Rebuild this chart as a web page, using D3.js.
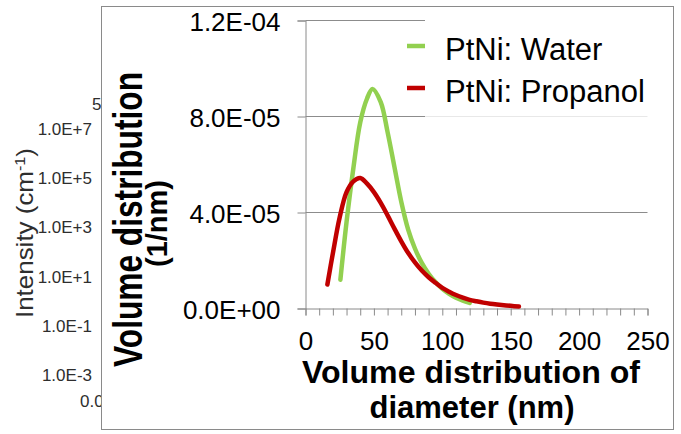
<!DOCTYPE html>
<html><head><meta charset="utf-8">
<script src="https://cdn.jsdelivr.net/npm/d3@7"></script>
<style>html,body{margin:0;padding:0;background:#fff;}svg{display:block;font-family:"Liberation Sans",Arial,sans-serif;}</style>
</head><body><svg id="c" width="681" height="434"></svg>
<script>
// ---- data ----
const seriesNames = ["PtNi: Water", "PtNi: Propanol"];
const waterD = [25.5,30,35,40,45,49,55,60,65,70,75,80,85,90,95,100,105,110,115,120];
const waterV = [1.2e-5,3.6e-5,5.85e-5,7.75e-5,8.75e-5,9.15e-5,8.6e-5,7.35e-5,5.9e-5,4.45e-5,3.3e-5,2.5e-5,1.9e-5,1.45e-5,1.1e-5,8.2e-6,6.1e-6,4.5e-6,3.3e-6,2.3e-6];
const propD = [16,20,25,30,35,40,45,50,55,60,65,70,75,80,85,90,95,100,105,110,115,120,125,130,135,140,145,150,156];
const propV = [1.0e-5,2.3e-5,3.8e-5,4.85e-5,5.3e-5,5.44e-5,5.2e-5,4.85e-5,4.4e-5,3.88e-5,3.33e-5,2.8e-5,2.32e-5,1.92e-5,1.58e-5,1.3e-5,1.07e-5,8.6e-6,7.0e-6,5.6e-6,4.5e-6,3.6e-6,3.0e-6,2.45e-6,2.0e-6,1.65e-6,1.35e-6,1.1e-6,8e-7];
const yTicks = [0, 4e-5, 8e-5, 1.2e-4];
const xTicks = d3.range(0, 251, 10);
const xLabels = [0, 50, 100, 150, 200, 250];
const bgTickLabels = ["1.0E+7","1.0E+5","1.0E+3","1.0E+1","1.0E-1","1.0E-3"];
const bgTickValues = [1e7, 1e5, 1e3, 1e1, 1e-1, 1e-3];
const colors = ["#92D050", "#C00000"];

const svg = d3.select("#c");

// ---- background chart remnants (left) ----
const bgY = d3.scaleLog().domain([1e7, 1e-3]).range([135, 381]);
const bg = svg.append("g").attr("fill", "#2e2e2e").attr("font-size", 17);
bg.selectAll("text.bt").data(bgTickValues).join("text").attr("class","bt")
  .attr("x", 92).attr("y", d => bgY(d)).attr("text-anchor","end")
  .text((d,i) => bgTickLabels[i]);
bg.append("text").attr("x", 92).attr("y", 110).text("5");
bg.append("text").attr("x", 80).attr("y", 407).text("0.0");
const it = bg.append("text").attr("transform","translate(33,233) rotate(-90)")
  .attr("text-anchor","middle").attr("font-size", 24)
  .attr("textLength", 170).attr("lengthAdjust", "spacingAndGlyphs");
it.append("tspan").text("Intensity (cm");
it.append("tspan").attr("baseline-shift","super").attr("font-size",15).text("-1");
it.append("tspan").text(")");

// ---- frame ----
svg.append("rect").attr("x",101.5).attr("y",6.5).attr("width",572).attr("height",423)
  .attr("fill","#fff").attr("stroke","#8a8a8a").attr("stroke-width",1);

// ---- scales ----
const x = d3.scaleLinear().domain([0, 250]).range([305.5, 647.5]);
const y = d3.scaleLinear().domain([0, 1.2e-4]).range([308.5, 20.5]);

// gridlines
svg.append("g").selectAll("line").data(yTicks.filter(d => d > 0)).join("line")
  .attr("x1", x(0)).attr("x2", x(250)).attr("y1", d => y(d)).attr("y2", d => y(d))
  .attr("stroke", "#8c8c8c").attr("stroke-width", 1);

// legend background (partly veils the 8E-05 gridline)
svg.append("rect").attr("x", 425).attr("y", 10).attr("width", 240).attr("height", y(8e-5) - 10)
  .attr("fill", "#fff");
svg.append("rect").attr("x", 425).attr("y", y(8e-5) - 1).attr("width", 240).attr("height", 2)
  .attr("fill", "#fff").attr("fill-opacity", 0.6);

// axes
function sci(v){
  if (v === 0) return "0.0E+00";
  const e = Math.floor(Math.log10(v) + 1e-9);
  const m = v / Math.pow(10, e);
  return m.toFixed(1) + "E" + (e < 0 ? "-" : "+") + String(Math.abs(e)).padStart(2, "0");
}
const yAxis = svg.append("g").attr("transform", `translate(${x(0)},0)`)
  .call(d3.axisLeft(y).tickValues(yTicks).tickSize(8).tickPadding(17).tickFormat(sci));
yAxis.selectAll("text").attr("font-size", 26).attr("fill", "#000").attr("dy", "0.38em")
  .attr("font-family", "'Liberation Sans',Arial,sans-serif");
const xAxis = svg.append("g").attr("transform", `translate(0,${y(0)})`)
  .call(d3.axisBottom(x).tickValues(xTicks).tickSize(7).tickPadding(16)
    .tickFormat(d => xLabels.includes(d) ? d : ""));
xAxis.selectAll("text").attr("font-size", 26).attr("fill", "#000")
  .attr("font-family", "'Liberation Sans',Arial,sans-serif");
[yAxis, xAxis].forEach(a => {
  a.select(".domain").attr("stroke", "#8a8a8a");
  a.selectAll(".tick line").attr("stroke", "#8a8a8a");
});

// curves
const line = d3.line().x(d => x(d[0])).y(d => y(d[1])).curve(d3.curveCatmullRom.alpha(0.5));
const series = [
  d3.zip(waterD, waterV),
  d3.zip(propD, propV)
];
svg.append("g").selectAll("path").data(series).join("path")
  .attr("d", line).attr("fill", "none")
  .attr("stroke", (d,i) => colors[i]).attr("stroke-width", 4.5)
  .attr("stroke-linecap", "round").attr("stroke-linejoin", "round");

// legend
const lg = svg.append("g");
const legY = [46, 88];
seriesNames.forEach((n, i) => {
  lg.append("line").attr("x1", 407).attr("x2", 425).attr("y1", legY[i]).attr("y2", legY[i])
    .attr("stroke", colors[i]).attr("stroke-width", 4.5);
  lg.append("text").attr("x", 445).attr("y", legY[i] + 14).attr("font-size", 31)
    .attr("fill", "#000").text(n);
});

// axis titles
const xt = svg.append("g").attr("font-weight", "bold").attr("text-anchor", "middle").attr("fill", "#000");
xt.append("text").attr("x", 471).attr("y", 383).attr("font-size", 31)
  .attr("textLength", 338).attr("lengthAdjust", "spacingAndGlyphs").text("Volume distribution of");
xt.append("text").attr("x", 472).attr("y", 418).attr("font-size", 31).text("diameter (nm)");

const yt = svg.append("g").attr("font-weight", "bold").attr("text-anchor", "middle").attr("fill", "#000");
yt.append("text").attr("transform", "translate(142,219.5) rotate(-90) scale(1,1.22)")
  .attr("font-size", 34).attr("textLength", 295).attr("lengthAdjust", "spacingAndGlyphs")
  .text("Volume distribution");
yt.append("text").attr("transform", "translate(167,223.5) rotate(-90)")
  .attr("font-size", 30).attr("textLength", 87).attr("lengthAdjust", "spacingAndGlyphs")
  .text("(1/nm)");
</script></body></html>
